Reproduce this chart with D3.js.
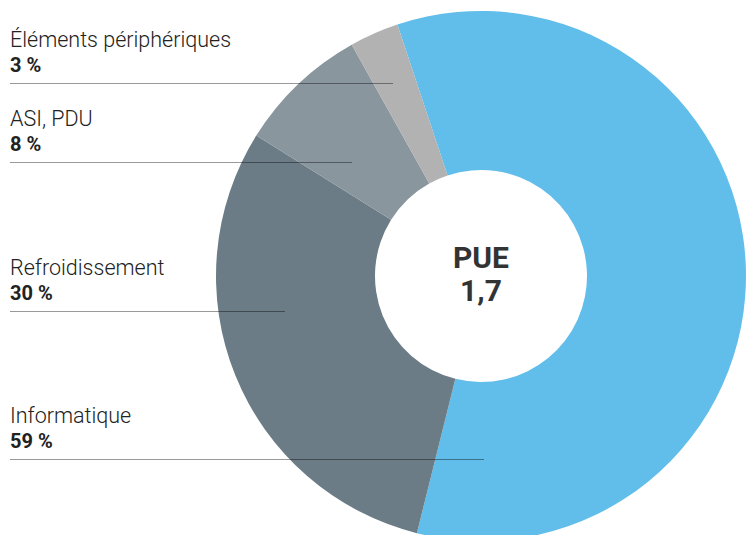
<!DOCTYPE html>
<html>
<head>
<meta charset="utf-8">
<script src="https://cdn.jsdelivr.net/npm/d3@7"></script>
<style>
  html, body { margin: 0; padding: 0; background: #fff; }
  svg { display: block; }
</style>
</head>
<body>
<div id="chart"></div>
<script>
const categories = ["Informatique", "Refroidissement", "ASI, PDU", "Éléments périphériques"];
const values = [59, 30, 8, 3];
const valueLabels = ["59 %", "30 %", "8 %", "3 %"];
const colors = ["#61bdea", "#6b7c86", "#89969e", "#b2b2b2"];
const centerLines = ["PUE", "1,7"];

const width = 747;
const height = 535;
const cx = 481, cy = 276;
const outerR = 265, innerR = 106;

// label layout (baseline of each name) and leader line end, same order as categories
const labelTop = [423, 275, 126, 47];
const leaderEnd = [484, 285, 352, 393];

const svg = d3.select("#chart")
  .append("svg")
  .attr("width", width)
  .attr("height", height);

const start = -18.4 * Math.PI / 180;
const pie = d3.pie()
  .sort(null)
  .value(d => d)
  .startAngle(start)
  .endAngle(start + 2 * Math.PI);

const arc = d3.arc()
  .innerRadius(innerR)
  .outerRadius(outerR);

const g = svg.append("g")
  .attr("transform", `translate(${cx},${cy})`);

// Parts
g.selectAll("path")
  .data(pie(values))
  .enter()
  .append("path")
  .attr("d", arc)
  .attr("fill", (d, i) => colors[i]);

// Centre
g.selectAll(".center")
  .data(centerLines)
  .enter()
  .append("text")
  .attr("class", "center")
  .attr("x", 0)
  .attr("y", (d, i) => -8 + i * 33)
  .attr("text-anchor", "middle")
  .style("font-family", "Roboto, sans-serif")
  .style("font-weight", "bold")
  .style("font-size", "30px")
  .style("fill", "#333")
  .text(d => d);

// Labels
const labels = svg.selectAll(".label")
  .data(categories)
  .enter()
  .append("g")
  .attr("class", "label");

labels.append("text")
  .attr("x", 10)
  .attr("y", (d, i) => labelTop[i])
  .style("font-family", "Roboto, sans-serif")
  .style("font-weight", "300")
  .style("font-size", "21.5px")
  .style("fill", "#222")
  .text(d => d);

labels.append("text")
  .attr("x", 10)
  .attr("y", (d, i) => labelTop[i] + 25)
  .style("font-family", "Roboto, sans-serif")
  .style("font-weight", "bold")
  .style("font-size", "20px")
  .style("fill", "#222")
  .text((d, i) => valueLabels[i]);

labels.append("line")
  .attr("x1", 10)
  .attr("x2", (d, i) => leaderEnd[i])
  .attr("y1", (d, i) => labelTop[i] + 36.5)
  .attr("y2", (d, i) => labelTop[i] + 36.5)
  .attr("stroke", "#000")
  .attr("stroke-opacity", 0.4)
  .attr("stroke-width", 1);
</script>
</body>
</html>
